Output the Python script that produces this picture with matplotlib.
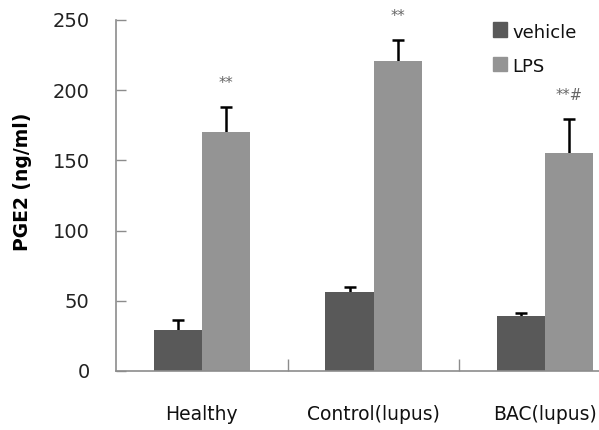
import numpy as np
import matplotlib.pyplot as plt
from matplotlib.patches import Rectangle

groups = ["Healthy", "Control(lupus)", "BAC(lupus)"]
vehicle = [29, 56, 39]
vehicle_err = [7, 4, 2]
lps = [170, 220.5, 155.5]
lps_err = [18, 15, 24]
marks = ["**", "**", "**#"]

dark = "#595959"
light = "#949494"
axis_gray = "#8c8c8c"

fig = plt.figure(figsize=(5.99, 4.30), dpi=100)
ax = fig.add_axes([116 / 599, 1 - 371 / 430, 1 - 116 / 599, 351 / 430])

x = np.arange(len(groups))
w = 0.28
ax.bar(x - w / 2, vehicle, w, color=dark, zorder=2)
ax.bar(x + w / 2, lps, w, color=light, zorder=2)

# error bars sit behind the bars, so only the upper half shows
err_kw = dict(fmt="none", ecolor="black", elinewidth=1.8, capsize=4.5, capthick=1.8, zorder=1)
ax.errorbar(x - w / 2, vehicle, yerr=vehicle_err, **err_kw)
ax.errorbar(x + w / 2, lps, yerr=lps_err, **err_kw)

# significance marks over the LPS bars
for xi, top, e, m in zip(x, lps, lps_err, marks):
    ax.text(xi + w / 2, top + e + 17, m,
            ha="center", va="center", fontsize=10.5, color="#666666", clip_on=False)

ax.set_xlim(-0.5, 2.313)
ax.set_ylim(0, 250)
ax.set_yticks([0, 50, 100, 150, 200, 250])
ax.set_xticks([0.5, 1.5])
ax.set_xticklabels([])
ax.tick_params(axis="y", direction="in", length=7, width=1, color=axis_gray,
               labelsize=14, pad=19, labelcolor="#222222")
ax.tick_params(axis="x", direction="in", length=9, width=1, color=axis_gray)
for s in ["top", "right"]:
    ax.spines[s].set_visible(False)
for s in ["left", "bottom"]:
    ax.spines[s].set_color(axis_gray)
    ax.spines[s].set_linewidth(1.2)

for xi, g in zip(x, groups):
    ax.text(xi, -31, g, ha="center", va="center", fontsize=13.5, color="#111111")

ax.set_ylabel("PGE2 (ng/ml)", fontsize=13.5, fontweight="bold")
ax.yaxis.set_label_coords(-0.173, 0.538)

# legend drawn as squares with labels
for y0, c, lab in [(29.5, dark, "vehicle"), (64, light, "LPS")]:
    fig.patches.append(Rectangle((493 / 599, 1 - (y0 + 7) / 430), 14 / 599, 14 / 430,
                                 transform=fig.transFigure, color=c))
    fig.text(512 / 599, 1 - (y0 + 3) / 430, lab, ha="left", va="center",
             fontsize=13, color="#111111")

fig.savefig("out.png", dpi=100)
